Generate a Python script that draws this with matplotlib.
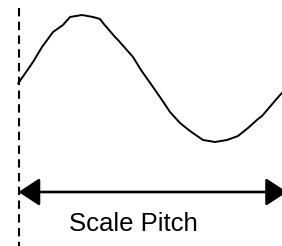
import matplotlib
matplotlib.use("Agg")
import matplotlib.pyplot as plt

## Data (pixel units, y down) ##
wave_x = [18.3, 33, 42, 53, 63, 70, 82, 93, 100, 103, 115, 118, 133, 141, 153,
          162, 170, 180, 190, 203, 215, 227, 238, 248, 258, 262, 280, 283]
wave_y = [83.3, 62, 47, 32, 25, 17, 15, 17, 19, 23, 37, 40, 57, 70, 87,
          100, 112, 123, 131, 140, 142, 140, 136, 128, 119, 116, 95, 92]
pitch_start = 18.5
pitch_end = 287
label = "Scale Pitch"

## Figure ##
fig = plt.figure(figsize=(2.82, 2.46), dpi=100)
ax = fig.add_axes([0, 0, 1, 1])
ax.set_xlim(0, 282)
ax.set_ylim(246, 0)
ax.axis("off")

# the wave
ax.plot(wave_x, wave_y, color="black", lw=1.4, solid_joinstyle="round")

# dashed reference line
ax.plot([pitch_start, pitch_start], [8, 250], color="black", lw=1.5,
        dashes=(4, 2.6))

# pitch arrow (right head runs off the edge)
ax.annotate("", xy=(pitch_end, 192), xytext=(pitch_start, 192),
            annotation_clip=False,
            arrowprops=dict(arrowstyle="<|-|>,head_length=13,head_width=8.5",
                            mutation_scale=1, color="black", lw=1.9,
                            shrinkA=0, shrinkB=0))

ax.text((68 + 199) / 2, 231, label, ha="center", va="baseline",
        fontsize=18.5, family="Liberation Sans", color="black")

fig.savefig("out.png", dpi=100)
